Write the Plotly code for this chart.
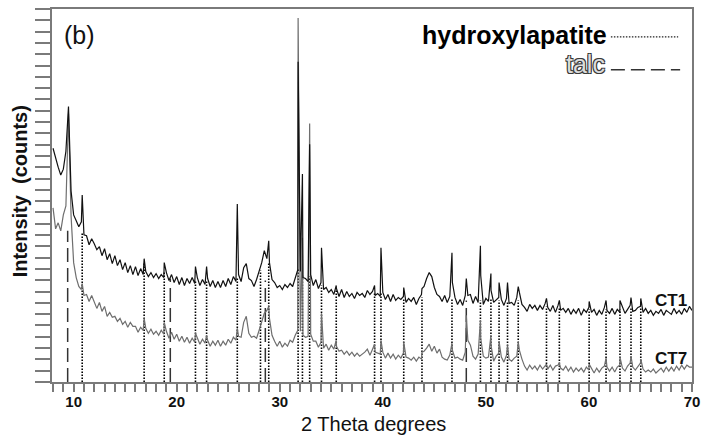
import plotly.graph_objects as go

# ---------------- data ----------------
# scan grid: 2-theta from 8.00 to 70.00 deg in 0.25 deg steps (249 steps)
SCAN_START, SCAN_STEP, SCAN_N = 8.0, 0.25, 249
two_theta = [round(SCAN_START + SCAN_STEP * i, 2) for i in range(SCAN_N)]

# CT1 background (counts) on the scan grid, one row = 2 degrees
ct1_base = [
    2350, 2240, 2160, 2080, 2140, 2320, 2770, 1920,
    1680, 1620, 1560, 1610, 1480, 1470, 1380, 1440,
    1390, 1330, 1360, 1270, 1340, 1230, 1290, 1190,
    1270, 1170, 1230, 1130, 1200, 1100, 1170, 1080,
    1160, 1070, 1140, 1080, 1110, 1060, 1100, 1050,
    1090, 1040, 1080, 1050, 1100, 1020, 1080, 1000,
    1060, 980, 1050, 970, 1040, 990, 1050, 990,
    1050, 970, 1030, 980, 1040, 960, 1020, 950,
    1010, 950, 1020, 960, 1040, 980, 1060, 1010,
    1080, 1010, 1150, 1190, 1040, 1020, 960, 1030,
    1120, 1200, 1320, 1240, 1200, 1030, 1000, 950,
    970, 930, 980, 950, 990, 960, 1040, 1130,
    1110, 1050, 1040, 1010, 1080, 970, 1030, 940,
    1000, 930, 950, 900, 930, 880, 940, 860,
    930, 850, 910, 860, 890, 840, 900, 870,
    890, 850, 920, 880, 910, 870, 890, 860,
    900, 830, 880, 810, 880, 820, 850, 830,
    860, 800, 840, 810, 850, 780, 840, 880,
    960, 1040, 1100, 1060, 950, 880, 860, 810,
    870, 800, 860, 1000, 850, 780, 830, 770,
    870, 870, 880, 790, 860, 800, 1070, 780,
    840, 810, 920, 800, 830, 850, 830, 770,
    840, 790, 800, 770, 850, 900, 780, 750,
    710, 780, 740, 770, 720, 770, 730, 790,
    750, 710, 770, 700, 770, 720, 740, 700,
    740, 680, 730, 690, 740, 670, 730, 700,
    750, 700, 730, 670, 720, 680, 750, 720,
    690, 740, 680, 730, 700, 750, 690, 730,
    770, 710, 720, 750, 760, 700, 740, 690,
    720, 670, 710, 690, 730, 670, 720, 700,
    680, 740, 690, 720, 680, 740, 700, 760,
    720,
]

# CT7 background (counts) on the scan grid
ct7_base = [
    1750, 1540, 1600, 1520, 1680, 1770, 2700, 1670,
    1200, 1050, 960, 930, 870, 880, 810, 870,
    810, 740, 800, 710, 760, 660, 700, 650,
    660, 610, 640, 580, 610, 550, 600, 560,
    560, 500, 550, 520, 540, 490, 530, 480,
    510, 470, 520, 480, 510, 440, 500, 430,
    480, 410, 460, 400, 450, 390, 440, 400,
    440, 380, 430, 390, 420, 360, 410, 370,
    420, 360, 410, 370, 430, 390, 450, 420,
    460, 450, 600, 660, 490, 450, 460, 440,
    520, 600, 690, 720, 640, 470, 410, 360,
    410, 350, 390, 360, 420, 400, 470, 520,
    510, 470, 450, 460, 480, 410, 410, 350,
    400, 340, 380, 320, 370, 330, 360, 310,
    320, 280, 310, 270, 300, 260, 290, 260,
    280, 300, 330, 270, 330, 300, 290, 280,
    300, 240, 290, 240, 280, 230, 270, 240,
    290, 250, 240, 220, 250, 210, 250, 230,
    310, 340, 380, 310, 360, 290, 330, 250,
    230, 220, 270, 320, 240, 250, 230, 220,
    300, 420, 370, 260, 230, 280, 440, 260,
    240, 250, 370, 210, 260, 290, 250, 200,
    270, 230, 210, 240, 260, 320, 230, 160,
    120, 170, 130, 160, 120, 170, 130, 170,
    130, 170, 120, 160, 170, 140, 120, 160,
    110, 150, 100, 140, 110, 140, 100, 150,
    120, 130, 90, 140, 100, 140, 160, 150,
    110, 150, 100, 150, 170, 140, 110, 160,
    190, 150, 120, 160, 190, 130, 100, 120,
    100, 130, 90, 120, 140, 100, 150, 110,
    150, 110, 160, 120, 170, 130, 170, 150,
    150,
]

# Bragg reflections (2-theta) and their peak counts
peak_pos = [10.83, 16.84, 18.79, 21.82, 22.90, 25.88, 28.13, 28.93, 31.78, 32.20,
            32.90, 34.05, 35.48, 39.20, 39.82, 42.03, 43.80, 46.71, 48.10, 49.47,
            50.49, 51.28, 52.10, 53.14, 55.88, 57.13, 60.02, 61.66, 63.01, 64.08, 65.03]
ct1_peak = [1880, 1240, 1200, 1160, 1160, 1790, 1180, 1420, 3220, 2090,
            2390, 1350, 970, 970, 1350, 950, 940, 1300, 1040, 1370,
            1090, 1000, 1000, 960, 840, 820, 810, 820, 820, 850, 840]
ct7_peak = [990, 640, 600, 490, 470, 540, 560, 760, 3660, 1450,
            2600, 690, 420, 380, 420, 400, 300, 390, 670, 620,
            470, 410, 370, 400, 180, 190, 180, 240, 250, 260, 230]

# reference lines: hydroxylapatite (dotted) and talc (dashed)
ha_pos = [10.83, 16.84, 18.79, 21.82, 22.90, 25.88, 28.13, 28.93, 31.78, 32.20,
          32.90, 34.05, 35.48, 39.20, 39.82, 42.03, 43.80, 46.71, 49.47, 50.49,
          51.28, 52.10, 53.14, 55.88, 57.13, 60.02, 61.66, 63.01, 64.08, 65.03]
ha_top = [1500, 1200, 1100, 1020, 1020, 1040, 1120, 1200, 1140, 1070,
          1060, 970, 920, 900, 900, 840, 850, 840, 820, 840,
          820, 810, 820, 760, 750, 730, 730, 730, 740, 740]
talc_pos = [9.42, 19.38, 28.60, 48.10]
talc_top = [1520, 1040, 1020, 820]

x_ticks = [10, 20, 30, 40, 50, 60, 70]

# ---------------- figure ----------------
FONT = "Arial, Liberation Sans, sans-serif"


def merged(base, peaks):
    pts = sorted(zip(two_theta + peak_pos, base + peaks))
    return [p[0] for p in pts], [p[1] for p in pts]


def segments(pos, top):
    xs, ys = [], []
    for p, t in zip(pos, top):
        xs += [p, p, None]
        ys += [0, t, None]
    return xs, ys


fig = go.Figure()

hx, hy = segments(ha_pos, ha_top)
fig.add_trace(go.Scatter(x=hx, y=hy, mode="lines",
                         line=dict(color="#000000", width=1.6, dash="1.6px,1.4px"),
                         hoverinfo="skip"))
tx, ty = segments(talc_pos, talc_top)
fig.add_trace(go.Scatter(x=tx, y=ty, mode="lines",
                         line=dict(color="#333333", width=1.5, dash="14px,6px"),
                         hoverinfo="skip"))

x7, y7 = merged(ct7_base, ct7_peak)
fig.add_trace(go.Scatter(x=x7, y=y7, mode="lines", name="CT7",
                         line=dict(color="#6e6e6e", width=1.2)))
x1, y1 = merged(ct1_base, ct1_peak)
fig.add_trace(go.Scatter(x=x1, y=y1, mode="lines", name="CT1",
                         line=dict(color="#111111", width=1.2)))

AX = "#7a7a7a"
fig.update_xaxes(range=[7.9, 70], showline=True, linecolor=AX, linewidth=1.5, mirror=True,
                 ticks="outside", tickcolor=AX, tickwidth=1.5, ticklen=8,
                 tickvals=x_ticks, ticktext=[str(v) for v in x_ticks],
                 tickfont=dict(family=FONT, size=15, color="#111", weight="bold"),
                 ticklabelstandoff=-3,
                 minor=dict(ticks="outside", dtick=1, tick0=0, ticklen=8,
                            tickcolor=AX, tickwidth=1.5),
                 showgrid=False, zeroline=False)
fig.update_yaxes(range=[0, 3750], showline=True, linecolor=AX, linewidth=1.5, mirror=True,
                 ticks="outside", tickcolor=AX, tickwidth=1.5, ticklen=15,
                 tick0=0, dtick=3750 / 33, showticklabels=False,
                 showgrid=False, zeroline=False)

L, R, T, B = 52, 8, 7, 62
PW, PH = 707 - L - R, 444 - T - B


def px(xp):
    return (xp - L) / PW


def py(yp):
    return (444 - B - yp) / PH


ann = [
    dict(text="(b)", x=px(80), y=py(33), font=dict(size=25, color="#111")),
    dict(text="hydroxylapatite", x=px(615), y=py(33), xanchor="right",
         font=dict(size=25, color="#000", weight="bold")),
    dict(text="talc", x=px(613), y=py(62.5), xanchor="right",
         font=dict(size=25, color="#dcdcdc",
                   shadow="-1px -1px 0 #3a3a3a, 1px -1px 0 #3a3a3a, -1px 1px 0 #3a3a3a, 1px 1px 0 #3a3a3a")),
    dict(text="CT1", x=px(678), y=py(300), font=dict(size=17, color="#111", weight="bold")),
    dict(text="CT7", x=px(678), y=py(358), font=dict(size=17, color="#111", weight="bold")),
    dict(text="2 Theta degrees", x=px(377), y=py(424), font=dict(size=20, color="#111")),
    dict(text="Intensity  (counts)", x=px(20), y=py(190), textangle=-90,
         font=dict(size=20, color="#111", weight="bold")),
]
for a in ann:
    a.setdefault("xanchor", "center")
    a.update(xref="paper", yref="paper", yanchor="middle", showarrow=False)
    a["font"].setdefault("family", FONT)
fig.update_layout(annotations=ann)

fig.add_shape(type="line", xref="paper", yref="paper", x0=px(617), x1=px(685),
              y0=py(35), y1=py(35), line=dict(color="#222", width=1.2, dash="1.5px,1.5px"))
fig.add_shape(type="line", xref="paper", yref="paper", x0=px(617), x1=px(687),
              y0=py(68), y1=py(68), line=dict(color="#333", width=1.5, dash="14px,6px"))

fig.update_layout(width=707, height=444, margin=dict(l=L, r=R, t=T, b=B),
                  paper_bgcolor="white", plot_bgcolor="white", showlegend=False,
                  font=dict(family=FONT))

fig.write_html("out.html", config={"displayModeBar": False},
               post_script="document.body.style.margin='0';")
